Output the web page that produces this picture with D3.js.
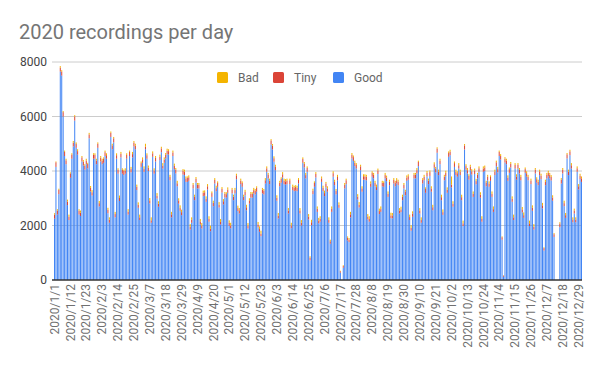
<!DOCTYPE html>
<html>
<head>
<script src="https://cdn.jsdelivr.net/npm/d3@7/dist/d3.min.js"></script>
<style>
  body { margin: 0; background: #fff; font-family: Roboto, Arial, sans-serif; }
</style>
</head>
<body>
<div id="chart"></div>
<script>
// values, one per day of 2020
const good = [
  2250,4150,2400,3150,7650,7500,6000,4550,4250,2750,
  2200,3750,4450,4900,5850,4850,4600,2400,2350,4350,
  4200,4050,4250,4100,5200,3250,3100,4450,4450,4250,
  4850,2700,4350,4250,4300,4550,4450,2450,2100,5250,
  4800,5050,2300,4450,3900,2900,4500,3900,3850,3900,
  4450,2400,4550,3950,4500,4900,4800,3300,2650,
  2200,4150,4300,3970,4800,4450,4000,2810,2100,4520,
  3900,4350,2990,2690,4400,4690,4090,4300,4460,4620,
  4600,3660,2300,4550,4070,3910,3440,2800,2540,2380,
  3870,3850,3600,3600,3640,1850,2100,3360,2930,3580,
  3360,3360,2040,1890,3080,3090,2870,3320,2140,1790,
  3050,2710,3540,3260,3420,2660,2040,3210,2770,3030,
  3020,3200,
  1990,1900,3180,2930,3180,3700,2530,2440,3520,3420,
  2930,3110,2560,1890,2800,3030,3020,3180,3140,3240,
  1930,1770,1610,3180,3140,3540,3970,3730,3520,4970,
  4790,4340,4030,2910,2260,3440,3570,3760,3520,3500,
  3520,2440,3520,1900,3300,3260,3280,3260,3540,2440,
  2000,4300,4130,3730,3970,2220,720,2010,3150,3420,
  3760,2500,2080,2140,
  3600,3260,3080,3400,3240,2100,1330,2500,3790,3480,
  3140,3660,2650,270,0,450,3360,3520,1450,1390,
  2300,4460,4370,4180,4090,2950,2660,4030,3240,3680,
  3680,3660,2220,2140,3420,3790,3730,3440,3300,3890,
  2420,2500,3440,3420,3730,3630,3050,3480,2270,2260,
  3540,3440,3540,3480,2440,2490,2930,3360,3110,3640,
  3680,2200,1810,2320,
  3730,3730,3910,4180,2440,2100,3540,3660,3200,3800,3520,
  3820,3240,2560,4120,3950,4670,3850,4250,2930,2390,
  3660,3810,3200,4520,4580,3400,2690,4150,3850,3790,
  4090,3850,2930,1980,4790,4050,3910,3680,4030,3870,
  3050,3890,3510,3730,3970,3020,2140,3970,4000,3440,
  3660,3420,3640,3050,2500,3850,4180,3950,4550,4420,
  1480,120,
  4310,4250,3640,3930,4130,2870,2200,4090,3680,4090,
  3910,3660,2480,2280,3930,3790,3660,1980,3520,2540,
  1850,3910,3570,3480,3850,3700,2630,1080,3480,3730,
  3810,3730,3650,2910,1580,0,0,0,1940,3540,
  3910,2710,2280,4460,3850,4580,4090,2120,2440,2120,
  3970,3320,3700,3600
];
const tiny = [
  150,170,140,160,140,150,160,150,140,130,
  130,160,150,140,150,140,130,140,120,150,
  140,150,130,160,140,130,120,150,140,130,
  150,120,140,130,150,140,130,120,110,150,
  140,150,120,130,140,110,130,140,150,120,
  140,110,150,130,120,140,130,120,110,
  100,140,130,120,90,130,120,110,90,130,
  120,130,100,110,120,140,110,120,130,120,
  130,120,110,130,120,140,110,120,100,110,
  140,120,130,150,130,100,110,140,120,130,
  130,140,110,100,120,130,110,120,100,90,
  140,120,130,110,140,100,90,130,120,140,
  130,120,
  110,100,140,130,120,140,110,120,130,140,
  130,120,110,100,120,130,140,120,130,140,
  110,100,90,130,140,120,130,140,120,150,
  140,130,120,110,100,130,140,120,130,120,
  130,110,140,100,120,130,140,120,130,110,
  100,140,130,120,140,110,100,110,130,140,
  130,110,100,110,
  130,120,110,140,120,100,90,110,130,120,
  130,120,110,50,0,60,130,140,100,90,
  110,130,140,120,130,110,100,140,120,130,
  120,130,110,100,120,140,130,120,110,130,
  110,100,130,140,120,130,110,120,100,110,
  130,140,120,130,110,100,120,130,140,120,
  130,110,100,120,
  130,140,120,150,110,100,130,120,140,130,120,
  140,120,110,130,140,150,120,130,110,100,
  130,120,110,140,130,100,110,140,120,130,
  120,130,110,100,150,130,120,140,130,120,
  110,130,120,140,130,110,100,120,130,140,
  130,120,140,110,100,130,140,120,150,130,
  90,40,
  140,130,120,140,130,110,100,130,120,140,
  130,120,110,100,140,130,120,100,130,110,
  100,140,130,120,140,130,110,90,120,130,
  130,140,130,120,100,0,0,0,130,140,
  130,110,100,150,130,140,120,100,110,100,
  130,120,130,130
];
const bad = [
  50,30,60,40,60,50,40,50,60,70,
  70,40,50,60,50,60,70,60,80,50,
  60,50,70,40,60,70,80,50,60,70,
  50,80,60,70,50,60,70,80,90,50,
  60,50,80,70,60,90,70,60,50,80,
  60,90,50,70,80,60,70,80,90,
  100,60,70,80,110,70,80,90,110,70,
  80,70,100,90,80,60,90,80,70,80,
  70,80,90,70,80,60,90,80,100,90,
  60,80,70,50,70,100,90,60,80,70,
  70,60,90,100,80,70,90,80,100,110,
  60,80,70,90,60,100,110,70,80,60,
  70,80,
  90,100,60,70,80,60,90,80,70,60,
  70,80,90,100,80,70,60,80,70,60,
  90,100,110,70,60,80,70,60,80,50,
  60,70,80,90,100,70,60,80,70,80,
  70,90,60,100,80,70,60,80,70,90,
  100,60,70,80,60,90,50,90,70,60,
  70,90,100,90,
  70,80,90,60,80,100,60,90,70,80,
  70,80,90,20,0,30,70,60,50,60,
  90,70,60,80,70,90,100,60,80,70,
  80,70,90,100,80,60,70,80,90,70,
  90,100,70,60,80,70,90,80,100,90,
  70,60,80,70,90,100,80,70,60,80,
  70,90,100,80,
  70,60,80,50,90,100,70,80,60,70,80,
  60,80,90,70,60,50,80,70,90,100,
  70,80,90,60,70,300,90,60,80,70,
  80,70,90,100,50,70,80,60,70,80,
  90,70,80,60,70,90,100,80,70,60,
  70,80,60,90,100,70,60,80,50,70,
  30,10,
  60,70,80,60,70,90,100,70,80,60,
  70,80,90,100,60,70,80,100,70,90,
  100,60,70,80,60,70,90,30,80,70,
  70,60,70,80,40,0,0,0,50,60,
  70,90,80,50,70,60,80,80,70,80,
  70,80,70,70
];
const keys = ["Good", "Tiny", "Bad"];
const colors = { Good: "#4285f4", Tiny: "#db4437", Bad: "#f4b400" };
const legendOrder = ["Bad", "Tiny", "Good"];
const yTicks = [0, 2000, 4000, 6000, 8000];
const labelEvery = 11;

const width = 600, height = 371;
const dates = d3.timeDay.range(new Date(2020, 0, 1), new Date(2021, 0, 1));
const fmt = d => d.getFullYear() + "/" + (d.getMonth() + 1) + "/" + d.getDate();

const rows = dates.map((d, i) => ({ date: fmt(d), Good: good[i], Tiny: tiny[i], Bad: bad[i] }));
const series = d3.stack().keys(keys)(rows);

const x = d3.scaleBand()
  .domain(rows.map(r => r.date))
  .range([54, 582])
  .paddingInner(0.3);

const y = d3.scaleLinear()
  .domain([0, 8000])
  .range([280, 62]);

const svg = d3.select("#chart")
  .append("svg")
  .attr("width", width)
  .attr("height", height);

svg.append("text")
  .attr("x", 19)
  .attr("y", 39)
  .attr("font-size", 20)
  .attr("fill", "#757575")
  .text("2020 recordings per day");

// grid + y labels
svg.append("g")
  .selectAll("line")
  .data(yTicks.slice(1))
  .enter()
  .append("line")
  .attr("x1", 52).attr("x2", 582)
  .attr("y1", d => y(d)).attr("y2", d => y(d))
  .attr("stroke", "#cccccc");

svg.append("g")
  .selectAll("text")
  .data(yTicks)
  .enter()
  .append("text")
  .attr("x", 47)
  .attr("y", d => y(d))
  .attr("dy", "0.35em")
  .attr("text-anchor", "end")
  .attr("font-size", 12)
  .attr("fill", "#444")
  .text(d => d);

// bars
svg.append("g")
  .selectAll("g")
  .data(series)
  .enter()
  .append("g")
  .attr("fill", s => colors[s.key])
  .selectAll("rect")
  .data(s => s)
  .enter()
  .append("rect")
  .attr("x", d => x(d.data.date))
  .attr("width", x.bandwidth())
  .attr("y", d => y(d[1]))
  .attr("height", d => Math.max(0, y(d[0]) - y(d[1])));

// baseline
svg.append("line")
  .attr("x1", 52).attr("x2", 582)
  .attr("y1", y(0)).attr("y2", y(0))
  .attr("stroke", "#333")
  .attr("stroke-width", 1.5);

// x labels
svg.append("g")
  .selectAll("text")
  .data(rows.filter((r, i) => i % labelEvery === 0))
  .enter()
  .append("text")
  .attr("transform", r => "translate(" + (x(r.date) + x.bandwidth() / 2) + ",284) rotate(-90)")
  .attr("dy", "0.35em")
  .attr("text-anchor", "end")
  .attr("font-size", 12)
  .attr("fill", "#707070")
  .text(r => r.date);

// legend
const legend = svg.append("g");
const legendX = [217, 273, 333];
legendOrder.forEach((k, i) => {
  legend.append("rect")
    .attr("x", legendX[i]).attr("y", 72)
    .attr("width", 11).attr("height", 11)
    .attr("rx", 1.5)
    .attr("fill", colors[k]);
  legend.append("text")
    .attr("x", legendX[i] + 21).attr("y", 77.5)
    .attr("dy", "0.35em")
    .attr("font-size", 12)
    .attr("fill", "#666")
    .text(k);
});
</script>
</body>
</html>
